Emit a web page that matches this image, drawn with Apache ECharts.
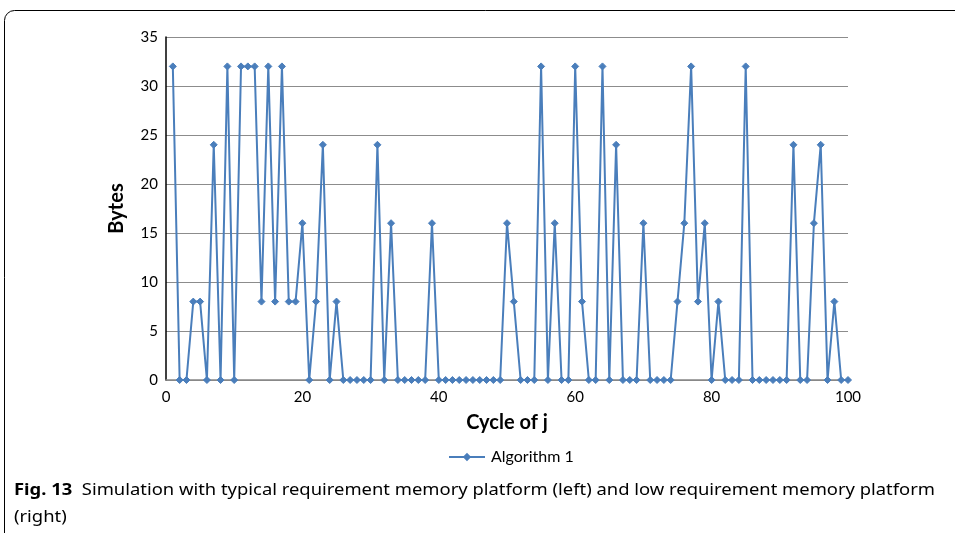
<!DOCTYPE html>
<html><head><meta charset="utf-8">
<script src="https://cdn.jsdelivr.net/npm/echarts@6/dist/echarts.min.js"></script>
<style>html,body{margin:0;padding:0;background:#fff}#c{width:955px;height:533px}</style>
</head><body><div id="c"></div>
<script>
const cycles = Array.from({length:100},(_,i)=>i+1);
const bytes = [32,0,0,8,8,0,24,0,32,0,
32,32,32,8,32,8,32,8,8,16,
0,8,24,0,8,0,0,0,0,0,
24,0,16,0,0,0,0,0,16,0,
0,0,0,0,0,0,0,0,0,16,
8,0,0,0,32,0,16,0,0,32,
8,0,0,32,0,24,0,0,0,16,
0,0,0,0,8,16,32,8,16,0,
8,0,0,0,32,0,0,0,0,0,
0,24,0,0,16,24,0,8,0,0];
const seriesName = 'Algorithm 1';
const xTitle = 'Cycle of j';
const yTitle = 'Bytes';
const captionBold = 'Fig. 13';
const captionRest = '  Simulation with typical requirement memory platform (left) and low requirement memory platform';
const captionLine2 = '(right)';

const chart = echarts.init(document.getElementById('c'));
const font = 'Lato, "Open Sans", sans-serif';
const capFont = '"Noto Sans", sans-serif';
chart.setOption({
  animation:false,
  grid:{left:166,right:107,top:37,bottom:153},
  xAxis:{type:'value',min:0,max:100,interval:20,
    name:xTitle,nameLocation:'middle',nameGap:33,
    nameTextStyle:{fontFamily:font,fontWeight:'bold',fontSize:20,color:'#000'},
    axisLine:{show:true,lineStyle:{color:'#868686',width:1.5}},
    axisTick:{show:false},
    axisLabel:{fontFamily:font,fontSize:15,color:'#000',margin:10},
    splitLine:{show:false}},
  yAxis:{type:'value',min:0,max:35,interval:5,
    name:yTitle,nameLocation:'middle',nameGap:39,nameRotate:90,
    nameTextStyle:{fontFamily:font,fontWeight:'bold',fontSize:20,color:'#000'},
    axisLine:{show:true,lineStyle:{color:'#000',width:1.5}},
    axisTick:{show:false},
    axisLabel:{fontFamily:font,fontSize:15,color:'#000',margin:8},
    splitLine:{lineStyle:{color:'#8c8c8c',width:1}}},
  legend:{data:[seriesName],left:443,top:444,itemWidth:36,itemHeight:7,itemGap:6,
    textStyle:{fontFamily:font,fontSize:16,color:'#000',padding:[0,0,0,1]}},
  series:[{name:seriesName,type:'line',data:cycles.map((c,i)=>[c,bytes[i]]),
    symbol:'diamond',symbolSize:7,showAllSymbol:true,
    lineStyle:{color:'#4a7ebb',width:2},
    itemStyle:{color:'#4a7ebb',borderColor:'#4a7ebb',borderWidth:1}}],
  graphic:[
    {type:'rect',shape:{x:4.5,y:10.5,width:1100,height:700,r:[10,0,0,0]},
     style:{fill:null,stroke:'#000',lineWidth:1},silent:true},
    {type:'text',x:14,y:490,scaleX:1.15,style:{
      text:'{b|'+captionBold+'}{r|'+captionRest+'}',verticalAlign:'middle',
      rich:{b:{fontFamily:capFont,fontWeight:'bold',fontSize:16,fill:'#000'},
            r:{fontFamily:capFont,fontSize:16,fill:'#000'}}}},
    {type:'text',x:14,y:517,scaleX:1.15,style:{text:captionLine2,verticalAlign:'middle',
      fontFamily:capFont,fontSize:16,fill:'#000'}}
  ]
});
</script></body></html>
